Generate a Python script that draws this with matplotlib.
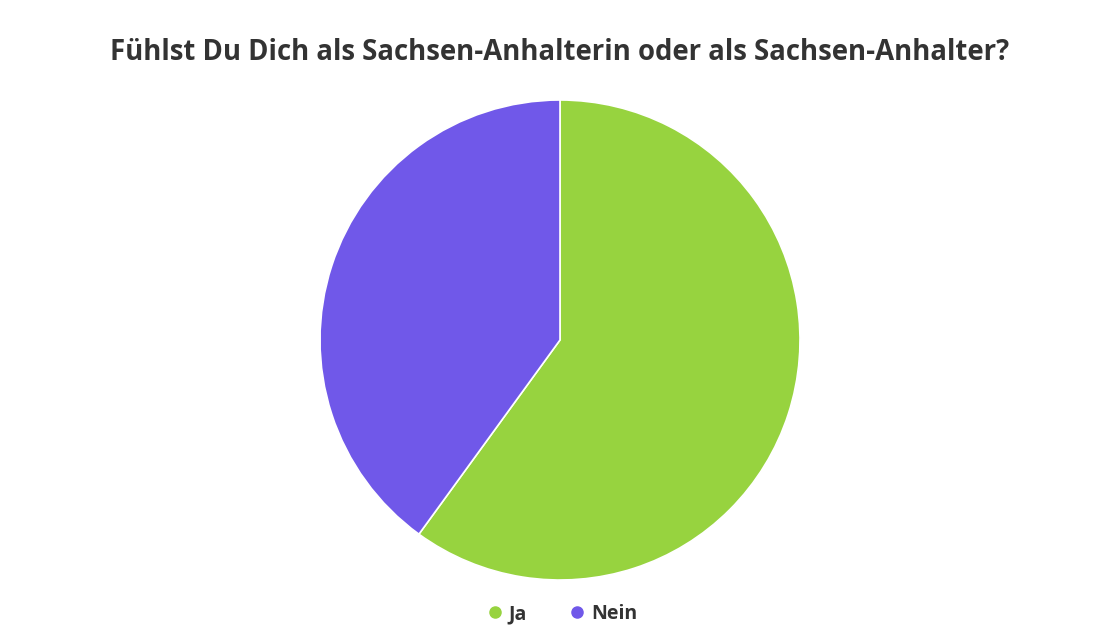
import matplotlib.pyplot as plt
from matplotlib.lines import Line2D

title = "Fühlst Du Dich als Sachsen-Anhalterin oder als Sachsen-Anhalter?"
labels = ["Ja", "Nein"]
values = [60, 40]
colors = ["#97d33f", "#7058e9"]

plt.rcParams['font.family'] = ['Open Sans', 'DejaVu Sans']

fig = plt.figure(figsize=(11.2, 6.37), dpi=100)

# pie centered at (560, 340) radius 240 in pixel coords
pie_ax = fig.add_axes([(560 - 240) / 1120, 1 - (340 + 240) / 637, 480 / 1120, 480 / 637])
pie_ax.pie(values, colors=colors, startangle=90, counterclock=False,
           wedgeprops=dict(edgecolor='white', linewidth=1.2))
pie_ax.set_xlim(-1, 1)
pie_ax.set_ylim(-1, 1)
pie_ax.set_aspect('equal')

fig.text(0.5, 1 - 52 / 637, title, ha='center', va='center',
         fontsize=19.8, fontweight='bold', color='#333333')

handles = [Line2D([], [], marker='o', linestyle='', markersize=8,
                  markerfacecolor=c, markeredgecolor=c) for c in colors]
leg = fig.legend(handles, labels, loc='center', bbox_to_anchor=(0.5, 1 - 614 / 637),
                 ncol=2, frameon=False, handletextpad=0.1, handlelength=1.2,
                 columnspacing=2.0, prop={'weight': 'bold', 'size': 14})
for t in leg.get_texts():
    t.set_color('#333333')

fig.savefig('out.png', dpi=100)
